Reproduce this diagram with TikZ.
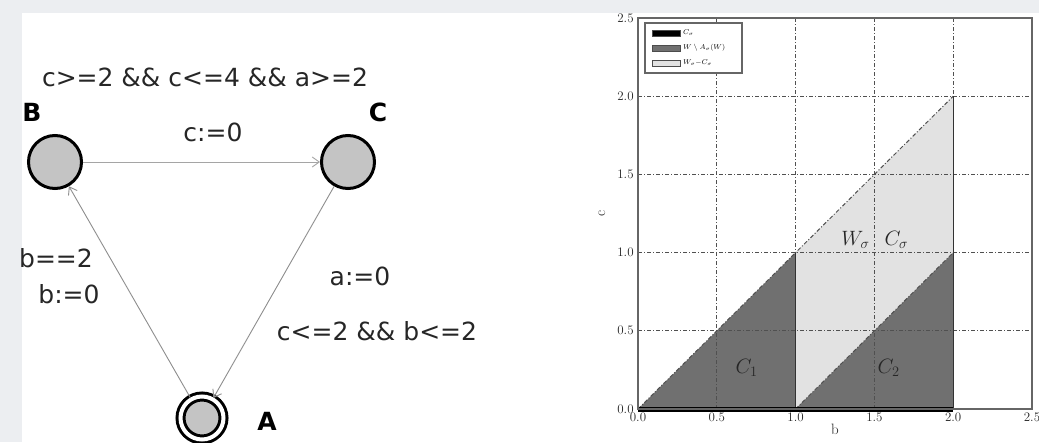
\documentclass[tikz,border=0pt]{standalone}
\usepackage{fontspec}
\newfontfamily\uppfont{DejaVu Sans}
\usetikzlibrary{arrows.meta,positioning}

\definecolor{stategray}{HTML}{C4C4C4}
\definecolor{edgegray}{HTML}{8E8E8E}
\definecolor{darkreg}{HTML}{707070}
\definecolor{lightreg}{HTML}{E2E2E2}
\definecolor{slidebg}{HTML}{ECEEF1}
\definecolor{gridgray}{HTML}{505050}

\begin{document}
\begin{tikzpicture}[x=1pt, y=1pt, >={Straight Barb[length=7pt,width=10pt]},
  loc/.style={draw, circle, line width=3pt, fill=stategray, minimum size=53pt, inner sep=0pt},
  init/.style={draw, circle, line width=3pt, double, double distance=4pt, fill=stategray, minimum size=43pt, inner sep=0pt},
  lbl/.style={font=\uppfont\bfseries\fontsize{25}{28}\selectfont, inner sep=0pt},
  ann/.style={font=\uppfont\fontsize{25}{28}\selectfont, text=black!85, inner sep=0pt},
  tr/.style={->, draw=edgegray, line width=0.9pt},
  tick/.style={font=\fontsize{13}{15}\selectfont, text=black!85, inner sep=1pt},
  reg/.style={font=\fontsize{20}{24}\selectfont, text=black!85, inner sep=0pt},
  grd/.style={gridgray, line width=0.8pt, dash pattern=on 4pt off 2pt on 1pt off 2pt}]
\useasboundingbox (0,0) rectangle (1039,442);
\fill[slidebg] (0,0) rectangle (1039,442);
\fill[white] (22,0) rectangle (1039,429);

% automaton
\node[loc] (B) at (55,280) {};
\node[loc] (C) at (348,280) {};
\node[init] (A) at (202,24) {};
\node[lbl] (labB) at (32,330) {B};
\node[lbl] (labC) at (378,330) {C};
\node[lbl] (labA) at (267,21) {A};
\node[ann] (guardBC) at (205,365) {c>=2 \&\& c<=4 \&\& a>=2};
\node[ann] (resetBC) at (213,310) {c:=0};
\node[ann] (guardAB) at (56,184) {b==2};
\node[ann] (resetAB) at (69,148) {b:=0};
\node[ann] (resetCA) at (360,166) {a:=0};
\node[ann] (guardCA) at (377,111) {c<=2 \&\& b<=2};
\draw[tr, draw=edgegray!80] (B) -- (C);
\draw[tr] (C) -- (A);
\draw[tr] (A) -- (B);

% zone plot
\begin{scope}[shift={(638,33)}, x=157.6pt, y=156.4pt]
  \fill[lightreg] (1,0) -- (2,1) -- (2,2) -- (1,1) -- cycle;
  \fill[darkreg] (0,0) -- (1,1) -- (1,0) -- cycle;
  \fill[darkreg] (1,0) -- (2,1) -- (2,0) -- cycle;
  \foreach \v in {0.5,1,1.5,2} {
    \draw[grd] (\v,0) -- (\v,2.5);
    \draw[grd] (0,\v) -- (2.5,\v);
  }
  \draw[grd, line width=1pt] (0,0) -- (2,2) (1,0) -- (2,1);
  \draw[black!80, line width=1.4pt] (1,0) -- (1,1) (2,0) -- (2,2);
  \draw[line width=5pt] (0,0) -- (2,0);
  \draw[black!60, line width=1.5pt] (0,0) rectangle (2.5,2.5);
  \foreach \v/\t [count=\i] in {0/0.0,0.5/0.5,1/1.0,1.5/1.5,2/2.0,2.5/2.5} {
    \node[tick, anchor=east] (yt\i) at (-0.02,\v) {\t};
    \node[tick, anchor=north] (xt\i) at (\v,-0.02) {\t};
  }
  \node[tick, font=\fontsize{15}{17}\selectfont] (xlab) at (1.25,-0.13) {b};
  \node[tick, font=\fontsize{15}{17}\selectfont, rotate=90] (ylab) at (-0.23,1.25) {c};
  \node[reg] (c1) at (0.69,0.26) {$C_1$};
  \node[reg] (c2) at (1.59,0.26) {$C_2$};
  \node[reg] (wsig) at (1.38,1.08) {$W_\sigma$};
  \node[reg] (csig) at (1.64,1.08) {$C_\sigma$};
\end{scope}

% legend
\draw[black!60, line width=1.2pt, fill=white] (645,419) rectangle (742,369);
\foreach \y/\c/\t [count=\i] in {409/black/{$C_\sigma$}, 394/darkreg/{$W\setminus A_\sigma(W)$}, 379/lightreg/{$W_\sigma{-}C_\sigma$}} {
  \filldraw[fill=\c, draw=black!70] (652,\y-3) rectangle (680,\y+3);
  \node[anchor=west, font=\fontsize{7}{8}\selectfont, inner sep=1pt] (leg\i) at (682,\y) {\t};
}
\end{tikzpicture}
\end{document}
